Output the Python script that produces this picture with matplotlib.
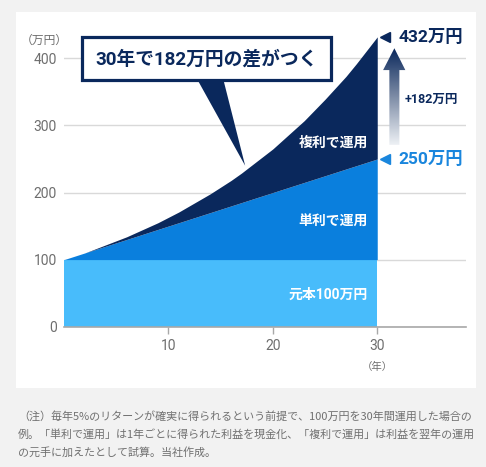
import numpy as np
import matplotlib
matplotlib.use("Agg")
import matplotlib.pyplot as plt
from matplotlib.patches import Rectangle, Polygon
from matplotlib.colors import LinearSegmentedColormap

plt.rcParams['font.family'] = ['Roboto', 'Noto Sans CJK JP', 'DejaVu Sans']

# ---- data (万円) ----
years = list(range(0, 31))
principal = 100
simple = [100, 105, 110, 115, 120, 125, 130, 135, 140, 145, 150,
          155, 160, 165, 170, 175, 180, 185, 190, 195, 200,
          205, 210, 215, 220, 225, 230, 235, 240, 245, 250]
compound = [100, 105, 110, 116, 122, 128, 134, 141, 148, 155, 163,
            171, 180, 189, 198, 208, 218, 229, 241, 253, 265,
            279, 293, 307, 323, 339, 356, 373, 392, 412, 432]
y_ticks = [0, 100, 200, 300, 400]
x_ticks = [10, 20, 30]

NAVY = '#0a285c'
MID = '#0a7fdd'
LIGHT = '#48bcfb'
BLUE_TXT = '#1a86dd'
GRAY = '#6e6e6e'

fig = plt.figure(figsize=(4.86, 4.67), dpi=100, facecolor='#f2f2f2')
# white panel behind the chart
fig.patches.append(Rectangle((16 / 486, 79 / 467), 460 / 486, 376 / 467,
                             transform=fig.transFigure, facecolor='white',
                             edgecolor='none', zorder=-5))

ax = fig.add_axes([64 / 486, 140.3 / 467, 402 / 486, 295.2 / 467])
ax.set_facecolor('none')
ax.set_zorder(1)

# areas
ax.fill_between(years, 0, principal, color=LIGHT, linewidth=0, zorder=3)
ax.fill_between(years, principal, simple, color=MID, linewidth=0, zorder=3)
ax.fill_between(years, simple, compound, color=NAVY, linewidth=0, zorder=3)

ax.set_yticks(y_ticks)
ax.set_xticks(x_ticks)
ax.grid(axis='y', color='#d9d9d9', linewidth=1.0, zorder=1)
for s in ['top', 'right', 'left']:
    ax.spines[s].set_visible(False)
ax.spines['bottom'].set_color('#a8a8a8')
ax.spines['bottom'].set_linewidth(1.2)
ax.spines['bottom'].set_zorder(4)
ax.tick_params(axis='y', length=0, pad=5, labelsize=10, labelcolor=GRAY)
ax.tick_params(axis='x', length=5, width=1, color='#a8a8a8', pad=4,
               labelsize=10, labelcolor=GRAY)

# axis unit labels
ax.text(-1.9, 427, '（万円）', ha='center', va='center', fontsize=8.5,
        color=GRAY, clip_on=False)
ax.text(30, -60, '（年）', ha='center', va='center', fontsize=7.5,
        color=GRAY, clip_on=False)

# labels inside areas
for y, label in [(274, '複利で運用'), (157, '単利で運用'), (47, '元本100万円')]:
    ax.text(29.1, y, label, ha='right', va='center', fontsize=10,
            fontweight='bold', color='white', zorder=6)

# end-value markers and labels
ax.plot([30.75], [compound[-1]], marker='<', markersize=7, color=NAVY,
        clip_on=False, zorder=6)
ax.plot([30.75], [simple[-1]], marker='<', markersize=7, color=BLUE_TXT,
        clip_on=False, zorder=6)
ax.text(32.0, compound[-1], f'{compound[-1]}万円', ha='left', va='center',
        fontsize=12.5, fontweight='bold', color=NAVY, clip_on=False)
ax.text(32.0, simple[-1], f'{simple[-1]}万円', ha='left', va='center',
        fontsize=12.5, fontweight='bold', color=BLUE_TXT, clip_on=False)
ax.text(32.65, 339, f'+{compound[-1] - simple[-1]}万円', ha='left',
        va='center', fontsize=9, fontweight='bold', color=NAVY, clip_on=False)

# gradient arrow
arrow = Polygon([(31.16, 271), (32.12, 271), (32.12, 382.5), (32.69, 382.5),
                 (31.64, 415), (30.56, 382.5), (31.16, 382.5)],
                closed=True, transform=ax.transData, facecolor='none',
                edgecolor='none')
ax.add_patch(arrow)
cmap = LinearSegmentedColormap.from_list('g', ['#eef1f5', '#7d8ca6', NAVY])
grad = np.linspace(0, 1, 256).reshape(-1, 1)
im = ax.imshow(grad, extent=[30.5, 32.8, 271, 415], origin='lower',
               aspect='auto', cmap=cmap, interpolation='bilinear', zorder=5)
im.set_clip_path(arrow)

ax.set_xlim(0, 38.5)
ax.set_ylim(0, 440)

# callout
ax.add_patch(Polygon([(12.75, 369), (15.25, 369), (17.35, 240)], closed=True,
                     facecolor=NAVY, edgecolor='none', zorder=7,
                     clip_on=False))
ax.add_patch(Rectangle((1.75, 368), 23.85, 64, facecolor='white',
                       edgecolor=NAVY, linewidth=2.3, zorder=8,
                       clip_on=False))
ax.text(13.7, 398, f'30年で{compound[-1] - simple[-1]}万円の差がつく',
        ha='center', va='center', fontsize=13.5, fontweight='bold',
        color=NAVY, zorder=9)

# footnote
note = ('（注）毎年5%のリターンが確実に得られるという前提で、100万円を30年間運用した場合の\n'
        '例。「単利で運用」は1年ごとに得られた利益を現金化、「複利で運用」は利益を翌年の運用\n'
        'の元手に加えたとして試算。当社作成。')
fig.text(18 / 486, 1 - 411 / 467, note, ha='left', va='top', fontsize=7.95,
         color='#707070', linespacing=1.8,
         family=['Noto Sans CJK JP', 'DejaVu Sans'])

fig.savefig('out.png', dpi=100, facecolor=fig.get_facecolor())
